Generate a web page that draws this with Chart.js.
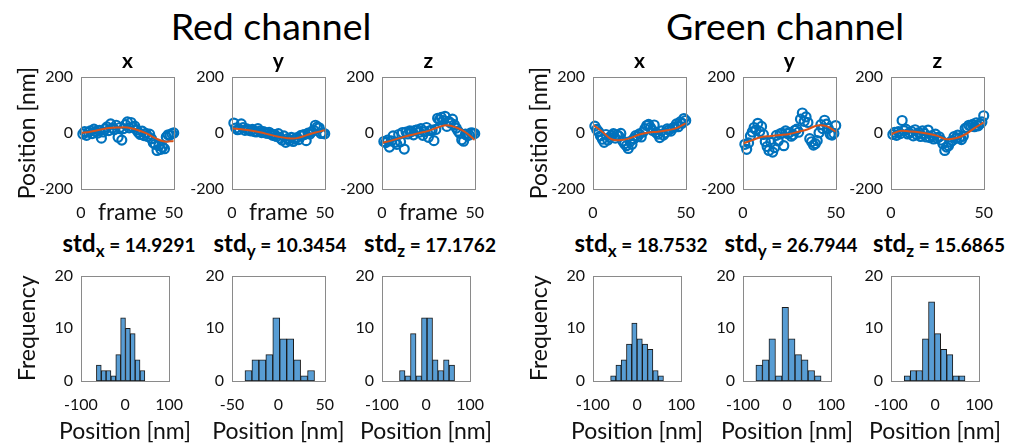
<!DOCTYPE html>
<html>
<head>
<meta charset="utf-8">
<script src="https://cdn.jsdelivr.net/npm/chart.js@4"></script>
<style>
  body { margin: 0; background: #fff; width: 1014px; height: 444px; position: relative; overflow: hidden; font-family: Lato, sans-serif; color: #000; }
  canvas { position: absolute; }
  .head { position: absolute; top: 6px; font-size: 37.5px; line-height: 40px; transform: translateX(-50%); white-space: nowrap; }
  .std { position: absolute; top: 228px; font-weight: bold; font-size: 19px; line-height: 30px; transform: translateX(-50%); white-space: nowrap; }
  .std .s { font-size: 24px; }
  .std sub { font-size: 17px; }
</style>
</head>
<body>
<div class="head" style="left:271px">Red channel</div>
<div class="head" style="left:785px">Green channel</div>
<div id="stds"></div>

<script>
// frame numbers of the traces, and frames where the smoothed fit is sampled
const frames = Array.from({ length: 50 }, (_, i) => i + 1);
const fitFrames = [0, 5, 10, 15, 20, 25, 30, 35, 40, 45, 50];

// positions [nm] per frame
const redX = [-3, 5, -8, 3, 8, -2, 14, 6, 0, 10, -18, 4, 15, 22, 9, 33, 18, 13, 28, -15,
  20, -25, 16, 30, 40, 19, 38, 21, 25, 11, 2, -5, 7, -9, -1, -12, -4, -20, -35, -40,
  -62, -45, -58, -50, -56, -14, -6, -7, -2, 0.5];
const redY = [36, 18, 12, 14, 33, 20, 10, 15, 11, 8, 13, 6, 4, 16, 7, 2, 5, 1, -1, 3,
  -3, -8, -5, -12, -2, -18, -25, -10, -33, -20, -27, -15, -30, -22, -16, -23, -9, -7, -5.5, -27,
  0, -3.5, 4.5, 10.5, 28, 22, 19, -1.5, 0.5, -2.5];
const redZ = [-30, -34, -25, -50, -28, -10, -33, -40, -5, -31, 2, -57, 4, -3, 8, 6, -6, 10, 12, 3,
  16, -8, 5, 20, -15, 9, 11, -27, 13, 53, 48, 56, 45, 60, 24, 42, 36, 50, 30, 18,
  7, -1, -24, -29, -4, -9, -7, 1, 0, -2];
const greenX = [25, 13, 5, -10, -22, -33, -5, -25, -15, -8, -2, -18, -6, -11, -1, -28, -38, -45, -55, -30,
  -40, -20, -9, -13, -3, -14, 4, 16, 27, 31, 20, 10, 29, 2, -4, -16, 8, -7, 1, 15,
  11, 7, 18, 22, 33, 23, 40, 35, 52, 45];
const greenY = [-40, -58, -35, -10, 4, 20, 12, 35, 6, 24, -5, -30, -48, -62, -33, -68, -52, -8, -28, -3,
  0, -45, 8, -2, 2, -11, -6, 10, 14, 3, 50, 72, 42, 58, 38, -20, -31, -43, -38, -27,
  1, 30, 16, 46, 32, 17, -4, -7, -1, 27];
const greenZ = [-5, 3, -8, 5, -2, 45, 9, 14, -3, 0, 6, -10, 12, -6, 2, -12, 8, -1.5, -14, 11,
  -16, -9, -21, -4, -18, -13, -25, -38, -62, -50, -45, -32, -27, -12.5, -19, -7, -17, -23, -11, 17,
  20, 28, 25, 31, 23, 37, 26, 34, 40, 62];

// smoothed fits [nm] at fitFrames
const redXFit = [0, 5, 12, 18, 20, 20, 12, 0, -18, -30, -28];
const redYFit = [17, 14, 9, 3, -5, -13, -18, -18, -8, 2, 10];
const redZFit = [-35, -27, -17, -8, 0, 8, 20, 28, 20, 3, -25];
const greenXFit = [30, 5, -22, -25, -18, -5, 2, 5, 10, 18, 35];
const greenYFit = [-37, -25, -14, -10, -7, -3, 5, 14, 27, 25, 5];
const greenZFit = [-5, 8, 6, 3, -2, -10, -22, -18, -5, 18, 38];

// histogram bin centres [nm] and counts
const redXBins = [-59.5, -48.5, -37.5, -26.5, -15.5, -4.5, 6.5, 17.5, 28.5, 39.5];
const redXCounts = [3, 2, 2, 1, 5, 12, 10, 9, 4, 2];
const redYBins = [-32.25, -24.75, -17.25, -9.75, -2.25, 5.25, 12.75, 20.25, 27.75, 35.25];
const redYCounts = [2, 4, 4, 5, 12, 8, 8, 4, 1, 2];
const redZBins = [-54, -41.5, -29, -16.5, -4, 8.5, 21, 33.5, 46, 58.5];
const redZCounts = [2, 1, 9, 1, 12, 12, 4, 2, 4, 3];
const greenXBins = [-54, -42, -30, -18, -6, 6, 18, 30, 42, 54];
const greenXCounts = [1, 3, 4, 7, 11, 8, 7, 6, 2, 1];
const greenYBins = [-63.3, -48.5, -33.7, -18.9, -4.1, 10.7, 25.5, 40.3, 55.1, 69.9];
const greenYCounts = [3, 4, 8, 1, 14, 8, 5, 4, 2, 1];
const greenZBins = [-63.1, -49.3, -35.5, -21.7, -7.9, 5.9, 19.7, 33.5, 47.3, 61.1];
const greenZCounts = [1, 2, 2, 8, 15, 9, 6, 5, 1, 1];

const stdRed = ['14.9291', '10.3454', '17.1762'];
const stdGreen = ['18.7532', '26.7944', '15.6865'];

const axisNames = ['x', 'y', 'z'];
const posTicks = [-200, 0, 200];
const frameTicks = [0, 50];
const freqTicks = [0, 10, 20];
const histTicks = [-100, 0, 100];
const histTicksNarrow = [-50, 0, 50];

// layout
const colLeft = [81, 232, 382, 593, 743, 891];
const areaW = 96;
const FONT = 'Lato';
const INK = '#111';

const boxPlugin = {
    id: 'box',
    afterDraw(chart) {
        const { ctx, chartArea: a } = chart;
        ctx.save();
        ctx.strokeStyle = '#8a8a8a';
        ctx.lineWidth = 1;
        ctx.strokeRect(Math.round(a.left) + 0.5, Math.round(a.top) + 0.5, Math.round(a.width), Math.round(a.height));
        ctx.restore();
    }
};

// axis titles drawn without the scale's width limit (they are wider than the plot box)
const axisLabels = {
    id: 'axisLabels',
    afterDraw(chart, args, opts) {
        const { ctx, chartArea: a } = chart;
        ctx.save();
        ctx.fillStyle = INK;
        ctx.font = `23px ${FONT}`;
        ctx.textAlign = 'center';
        ctx.textBaseline = 'middle';
        if (opts.x) ctx.fillText(opts.x, (a.left + a.right) / 2, a.bottom + opts.xGap);
        if (opts.y) {
            ctx.translate(a.left - opts.yGap, (a.top + a.bottom) / 2);
            ctx.rotate(-Math.PI / 2);
            ctx.fillText(opts.y, 0, 0);
        }
        ctx.restore();
    }
};

function makeCanvas(left, top, width, height) {
    const c = document.createElement('canvas');
    c.width = width;
    c.height = height;
    c.style.left = left + 'px';
    c.style.top = top + 'px';
    document.body.appendChild(c);
    return c;
}

function axis(ticks, min, max, size, horizontal, title) {
    return {
        type: 'linear', min, max, offset: false,
        grid: { display: false, drawTicks: false },
        border: { display: false },
        ticks: { font: { family: FONT, size: 16 }, color: INK, padding: horizontal ? 14 : 8, maxRotation: 0, autoSkip: false },
        afterBuildTicks: s => { s.ticks = ticks.map(v => ({ value: v })); },
        afterFit: s => { if (horizontal) s.height = size; else s.width = size; },
        title: title
            ? { display: true, text: title, font: { family: FONT, size: 23 }, color: INK, padding: { top: 0, bottom: 4 } }
            : { display: false }
    };
}

const common = {
    responsive: false,
    animation: false,
    events: []
};

function traceChart(col, name, values, fit, withFrame) {
    const first = col === 0 || col === 3;
    const yW = first ? 71 : 50;
    const c = makeCanvas(colLeft[col] - yW, 49, yW + areaW + 20, 28 + 112 + 41);
    new Chart(c, {
        type: 'scatter',
        data: {
            datasets: [{
                data: fitFrames.map((f, i) => ({ x: f, y: fit[i] })),
                showLine: true,
                borderColor: '#D95319',
                borderWidth: 2,
                pointRadius: 0,
                tension: 0.4
            }, {
                data: frames.map((f, i) => ({ x: f, y: values[i] })),
                pointRadius: 4.5,
                pointBorderWidth: 2.2,
                pointBorderColor: '#0072BD',
                pointBackgroundColor: 'rgba(0,0,0,0)',
                clip: false
            }]
        },
        options: {
            ...common,
            layout: { padding: { top: 0, right: 20, bottom: 0, left: 0 } },
            plugins: {
                legend: { display: false },
                tooltip: { enabled: false },
                title: {
                    display: true, text: name, fullSize: false, color: '#000',
                    font: { family: FONT, size: 21, weight: 'bold' }, padding: { top: 0, bottom: 3 }
                },
                axisLabels: { y: first ? 'Position [nm]' : null, yGap: 53 }
            },
            scales: {
                x: axis(frameTicks, 0, 50, 41, true, withFrame ? 'frame' : null),
                y: axis(posTicks, -200, 200, yW, false, null)
            }
        },
        plugins: [boxPlugin, axisLabels]
    });
}

function histChart(col, bins, counts, ticks, lim) {
    const first = col === 0 || col === 3;
    const yW = first ? 71 : 50;
    const c = makeCanvas(colLeft[col] - yW, 258, yW + areaW + 20, 10 + 113 + 63);
    new Chart(c, {
        type: 'bar',
        data: {
            datasets: [{
                data: bins.map((b, i) => ({ x: b, y: counts[i] })),
                backgroundColor: 'rgb(88,157,212)',
                borderColor: '#1a1a1a',
                borderWidth: 1,
                borderSkipped: false,
                barPercentage: 1,
                categoryPercentage: 1
            }]
        },
        options: {
            ...common,
            layout: { padding: { top: 10, right: 20, bottom: 0, left: 0 } },
            plugins: {
                legend: { display: false },
                tooltip: { enabled: false },
                axisLabels: { x: 'Position [nm]', xGap: 51, y: first ? 'Frequency' : null, yGap: 53 }
            },
            scales: {
                x: axis(ticks, -lim, lim, 63, true, null),
                y: axis(freqTicks, 0, 20, yW, false, null)
            }
        },
        plugins: [boxPlugin, axisLabels]
    });
}

traceChart(0, 'x', redX, redXFit, true);
traceChart(1, 'y', redY, redYFit, true);
traceChart(2, 'z', redZ, redZFit, true);
traceChart(3, 'x', greenX, greenXFit, false);
traceChart(4, 'y', greenY, greenYFit, false);
traceChart(5, 'z', greenZ, greenZFit, false);

histChart(0, redXBins, redXCounts, histTicks, 100);
histChart(1, redYBins, redYCounts, histTicksNarrow, 50);
histChart(2, redZBins, redZCounts, histTicks, 100);
histChart(3, greenXBins, greenXCounts, histTicks, 100);
histChart(4, greenYBins, greenYCounts, histTicks, 100);
histChart(5, greenZBins, greenZCounts, histTicks, 100);

// std labels above the histograms
const stds = document.getElementById('stds');
stdRed.concat(stdGreen).forEach((v, i) => {
    const d = document.createElement('div');
    d.className = 'std';
    d.style.left = (colLeft[i] + areaW / 2) + 'px';
    d.innerHTML = `<span class="s">std</span><sub>${axisNames[i % 3]}</sub> = ${v}`;
    stds.appendChild(d);
});
</script>
</body>
</html>
